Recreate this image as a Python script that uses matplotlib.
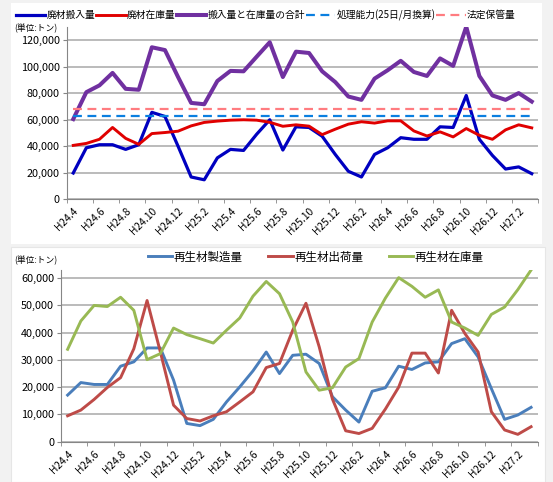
import matplotlib
matplotlib.use("Agg")
import matplotlib.pyplot as plt
from matplotlib.patches import Rectangle
import numpy as np

plt.rcParams['font.family'] = ['Noto Sans CJK JP', 'DejaVu Sans']

# ----------------------------
# Data (H24.4 - H27.3, monthly)
# ----------------------------
tick_labels = ["H24.4", "H24.6", "H24.8", "H24.10", "H24.12", "H25.2", "H25.4", "H25.6",
               "H25.8", "H25.10", "H25.12", "H26.2", "H26.4", "H26.6", "H26.8", "H26.10",
               "H26.12", "H27.2"]

haizai_in = [19800, 38800, 41100, 41100, 37600, 41100, 65500, 62400, 40000, 16800,
             14700, 31200, 37600, 36800, 49000, 59900, 37100, 54600, 54100, 47500,
             33800, 21100, 16800, 33800, 38800, 46400, 45200, 45200, 54600, 54100,
             78200, 45200, 33000, 22800, 24400, 19300]
haizai_stock = [40600, 42100, 45200, 54100, 45900, 41400, 49500, 50300, 51300, 55300,
                57900, 58900, 59600, 59900, 59600, 58000, 55000, 56100, 55100, 48700,
                52800, 56600, 58400, 57400, 59100, 59100, 51500, 47700, 50800, 47000,
                53300, 48200, 45200, 52300, 56100, 53800]
haizai_total = [60400, 80700, 85800, 95200, 83200, 82500, 114500, 112400, 92100, 72600,
                71600, 89100, 96700, 96400, 107400, 118300, 92100, 111200, 110200, 96400,
                88300, 77400, 74900, 90900, 97200, 104300, 95900, 92900, 106100, 100500,
                130000, 92900, 78200, 74900, 80000, 73600]
shori_noryoku = 63000
hotei_hokan = 68000

saisei_seizo = [17100, 21700, 21000, 21000, 27700, 29300, 34400, 34400, 22600, 6700,
                5900, 8200, 14600, 20100, 26000, 32900, 25000, 31700, 32100, 28700,
                16500, 11600, 7200, 18500, 19800, 27700, 26500, 28900, 29300, 36000,
                37800, 31100, 19500, 8200, 9800, 12600]
saisei_shukka = [9500, 11600, 15500, 19900, 23500, 34100, 51800, 33000, 13400, 8500,
                 7600, 9500, 11000, 14600, 18300, 27200, 28700, 40900, 50800, 34800,
                 15600, 4000, 3000, 4900, 12000, 20000, 32500, 32500, 25200, 48200,
                 39700, 32900, 11000, 4300, 2700, 5500]
saisei_zaiko = [33900, 44300, 50000, 49600, 53000, 48200, 30100, 32300, 41700, 39300,
                37800, 36200, 40900, 45400, 53400, 58800, 54300, 43900, 25600, 18900,
                19800, 27400, 30500, 43900, 52700, 60200, 57000, 53000, 55700, 43900,
                41700, 39000, 46700, 49400, 55800, 63000]

n = len(haizai_in)
x = np.arange(n)

W, H = 553, 482
fig = plt.figure(figsize=(W / 100, H / 100), dpi=100, facecolor='#F2F2F2')
fig.patches.append(Rectangle((11 / W, 1 - 244 / H), 531 / W, 241 / H, transform=fig.transFigure,
                             facecolor='white', edgecolor='none', zorder=-5))
fig.patches.append(Rectangle((11 / W, 0), 534 / W, 1 - 247 / H, transform=fig.transFigure,
                             facecolor='white', edgecolor='#E6E6E6', lw=0.8, zorder=-5))


def style_axes(ax, ymax, yticks):
    ax.set_facecolor('none')
    ax.set_xlim(-0.5, n - 0.5)
    ax.set_ylim(0, ymax)
    ax.set_yticks(yticks)
    ax.set_yticklabels([f"{v:,}" for v in yticks], fontsize=7.8)
    ax.yaxis.grid(True, color='#B5B5B5', lw=1.3)
    ax.set_axisbelow(True)
    ax.set_xticks(x[::2])
    ax.set_xticklabels(tick_labels, rotation=45, ha='right', va='top',
                       rotation_mode='anchor', fontsize=7.4)
    ax.set_xticks(np.arange(-0.5, n, 2), minor=True)
    ax.tick_params(axis='x', which='major', length=0, pad=5)
    ax.tick_params(axis='x', which='minor', length=3, color='#868686')
    ax.tick_params(axis='y', length=3, color='#868686', pad=2)
    for s in ['top', 'right']:
        ax.spines[s].set_visible(False)
    for s in ['left', 'bottom']:
        ax.spines[s].set_color('#868686')


# ----------------------------
# Top chart
# ----------------------------
ax1 = fig.add_axes([66.7 / W, 1 - 199.3 / H, 471.6 / W, 172.6 / H])
style_axes(ax1, 130000, list(range(0, 120001, 20000)))
ax1.plot(x, haizai_in, color='#0000C0', lw=2.3, label='廃材搬入量')
ax1.plot(x, haizai_stock, color='#E00000', lw=2.1, label='廃材在庫量')
ax1.plot(x, haizai_total, color='#7030A0', lw=2.9, label='搬入量と在庫量の合計')
ax1.plot(x, np.full(n, shori_noryoku), color='#0A7FE0', lw=1.6, ls=(0, (4, 2.5)),
         label='処理能力(25日/月換算)')
ax1.plot(x, np.full(n, hotei_hokan), color='#FF7C80', lw=1.6, ls=(0, (4, 2.5)),
         label='法定保管量')
ax1.legend(loc='center left', bbox_to_anchor=(16 / W, 1 - 15 / H), bbox_transform=fig.transFigure,
           ncol=5, frameon=False, fontsize=7.0, handlelength=3.0, handletextpad=0.15,
           columnspacing=0.1, borderpad=0, borderaxespad=0)
fig.text(14 / W, 1 - 28 / H, '(単位:トン)', fontsize=6.3, va='center', ha='left')

# ----------------------------
# Bottom chart
# ----------------------------
ax2 = fig.add_axes([61 / W, 1 - 441.7 / H, 476.7 / W, 171.7 / H])
style_axes(ax2, 63000, list(range(0, 60001, 10000)))
ax2.plot(x, saisei_seizo, color='#4A7EBB', lw=2.1, label='再生材製造量')
ax2.plot(x, saisei_shukka, color='#BE4B48', lw=2.1, label='再生材出荷量')
ax2.plot(x, saisei_zaiko, color='#98B954', lw=2.1, label='再生材在庫量')
ax2.legend(loc='center left', bbox_to_anchor=(148 / W, 1 - 257 / H), bbox_transform=fig.transFigure,
           ncol=3, frameon=False, fontsize=8.3, handlelength=2.1, handletextpad=0.15,
           columnspacing=2.2, borderpad=0, borderaxespad=0)
fig.text(14 / W, 1 - 260 / H, '(単位:トン)', fontsize=6.3, va='center', ha='left')

plt.savefig("out.png", dpi=100, facecolor=fig.get_facecolor())
